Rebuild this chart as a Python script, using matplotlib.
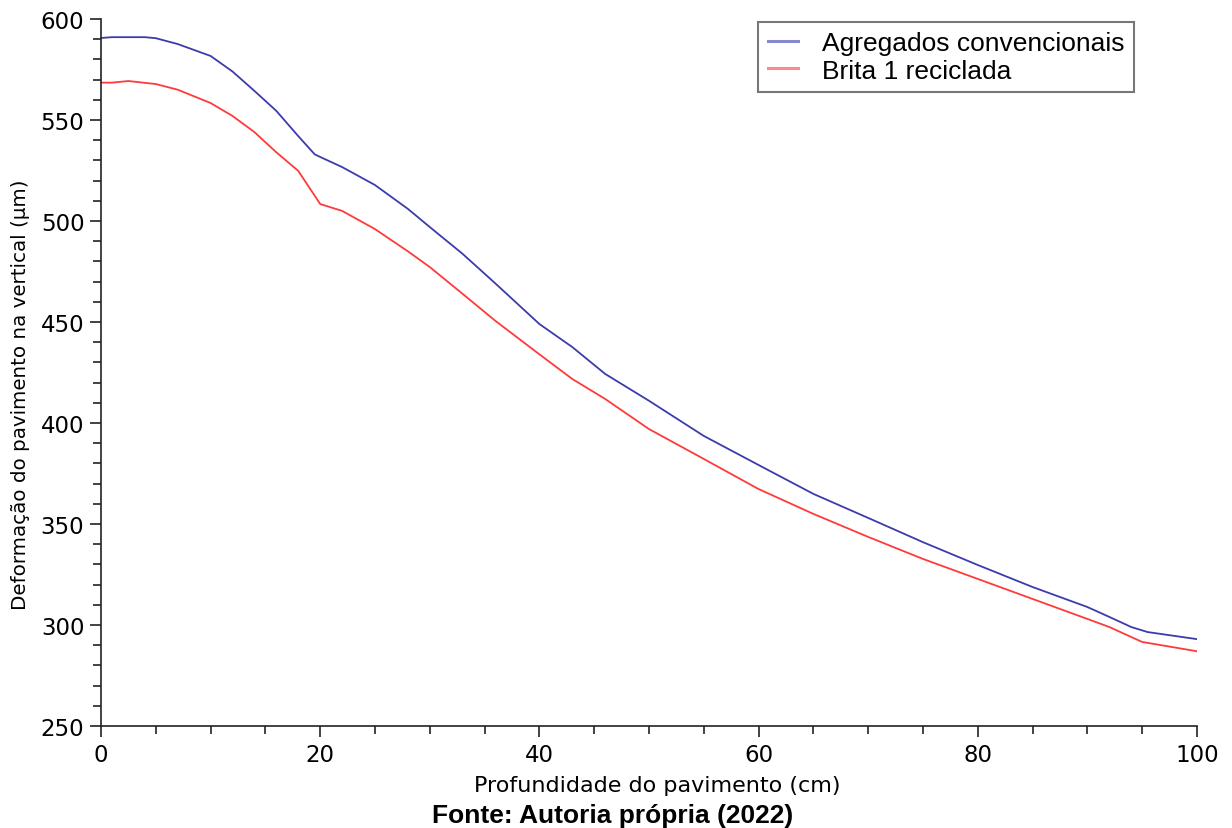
import matplotlib
matplotlib.use("Agg")
import matplotlib.pyplot as plt
from matplotlib.ticker import MultipleLocator

# Data
depth_conv = [0, 1, 2, 3, 4, 5, 7, 10, 12, 14, 16, 18, 19.5, 20, 22, 25, 28, 30, 33, 36,
              40, 43, 46, 50, 55, 60, 65, 70, 75, 80, 85, 90, 92, 94, 95.5, 100]
agregados_convencionais = [590.6, 591, 591, 591, 591, 590.5, 587.6, 581.7, 574, 564.4, 554.5,
                           542, 533, 531.7, 526.7, 517.8, 506, 497, 483.7, 469, 449, 437.6,
                           424.3, 411, 393.6, 379.2, 364.9, 353, 341, 329.7, 318.8, 308.9,
                           304, 299, 296.5, 293]

depth_rec = [0, 1, 2.5, 5, 7, 10, 12, 14, 16, 18, 20, 22, 25, 28, 30, 33, 36, 40, 43, 46,
             50, 55, 60, 65, 70, 75, 80, 85, 90, 92, 95, 100]
brita_reciclada = [568.5, 568.5, 569.3, 567.8, 565, 558.4, 552, 544, 534, 524.8, 508.4, 505,
                   496, 485, 477.2, 463.9, 450.5, 434, 421.8, 411.9, 397, 382.2, 367.3, 355,
                   343.6, 332.7, 322.8, 312.9, 303, 299, 291.6, 287]

series_labels = ["Agregados convencionais", "Brita 1 reciclada"]
x_label = "Profundidade do pavimento (cm)"
y_label = "Deformação do pavimento na vertical (μm)"
source = "Fonte: Autoria própria (2022)"

W, H = 1232, 829
fig = plt.figure(figsize=(W / 100, H / 100), dpi=100)
ax = fig.add_axes([101 / W, 1 - 727 / H, (1197 - 101) / W, (727 - 20) / H])

ax.plot(depth_conv, agregados_convencionais, color="#3b3bac", lw=1.3, label=series_labels[0])
ax.plot(depth_rec, brita_reciclada, color="#ff3a3a", lw=1.3, label=series_labels[1])

ax.set_xlim(0, 100)
ax.set_ylim(250, 600)
ax.xaxis.set_major_locator(MultipleLocator(20))
ax.xaxis.set_minor_locator(MultipleLocator(5))
ax.yaxis.set_major_locator(MultipleLocator(50))
ax.yaxis.set_minor_locator(MultipleLocator(10))
for s in ["top", "right"]:
    ax.spines[s].set_visible(False)
for s in ["left", "bottom"]:
    ax.spines[s].set_color("#222222")
    ax.spines[s].set_linewidth(1.2)
ax.tick_params(which="major", length=8, width=1.2, color="#222222", labelsize=16.5, pad=4)
ax.tick_params(which="minor", length=6, width=1.2, color="#222222")
for lab in ax.get_xticklabels() + ax.get_yticklabels():
    lab.set_family("DejaVu Sans")

# axis titles placed as figure texts
fig.text(657 / W, 1 - 792 / H, x_label, ha="center", va="baseline",
         fontsize=16, family="DejaVu Sans")
fig.text(21 / W, 1 - 395 / H, y_label, ha="center", va="center", rotation=90,
         fontsize=14.3, family="DejaVu Sans")

leg = ax.legend(loc="upper left", bbox_to_anchor=((758 - 101) / 1096, 1 - (23 - 20) / 707),
                frameon=True, fancybox=False, edgecolor="#555555",
                prop={"family": "Liberation Sans", "size": 19}, handlelength=1.17,
                handletextpad=0.9, borderpad=0.36, labelspacing=0.12, borderaxespad=0)
leg.get_frame().set_linewidth(1.5)
for h in leg.get_lines():
    h.set_alpha(0.6)
    h.set_linewidth(2.2)

fig.text(613 / W, 1 - 823 / H, source, ha="center", va="baseline",
         fontsize=19, fontweight="bold", family="Liberation Sans")

fig.savefig("out.png", dpi=100)
